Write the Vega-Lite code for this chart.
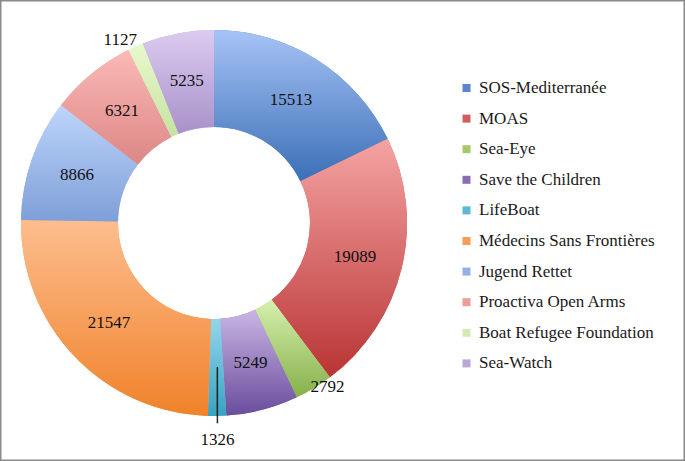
{
  "$schema": "https://vega.github.io/schema/vega-lite/v6.json",
  "width": 685,
  "height": 461,
  "autosize": {"type": "fit", "contains": "padding"},
  "padding": 0,
  "background": "white",
  "view": {"stroke": "#8a8a8a", "strokeWidth": 3},
  "config": {"font": "Liberation Serif"},
  "data": {"values": [
    {"name": "SOS-Mediterranée", "value": 15513},
    {"name": "MOAS", "value": 19089},
    {"name": "Sea-Eye", "value": 2792},
    {"name": "Save the Children", "value": 5249},
    {"name": "LifeBoat", "value": 1326},
    {"name": "Médecins Sans Frontières", "value": 21547},
    {"name": "Jugend Rettet", "value": 8866},
    {"name": "Proactiva Open Arms", "value": 6321},
    {"name": "Boat Refugee Foundation", "value": 1127},
    {"name": "Sea-Watch", "value": 5235}
  ]},
  "transform": [{"stack": "value", "groupby": [], "as": ["v0", "v1"]}],
  "layer": [
    {
      "mark": {"type": "arc", "x": 214, "y": 223, "radius": 193, "radius2": 96},
      "encoding": {
        "theta": {"field": "v0", "type": "quantitative", "scale": {"domain": [0, 87065]}},
        "theta2": {"field": "v1"},
        "color": {
          "field": "name", "type": "nominal",
          "scale": {
            "domain": ["SOS-Mediterranée", "MOAS", "Sea-Eye", "Save the Children", "LifeBoat", "Médecins Sans Frontières", "Jugend Rettet", "Proactiva Open Arms", "Boat Refugee Foundation", "Sea-Watch"],
            "range": ["#5a86c8", "#cf5e5d", "#a6c96a", "#8a6cb0", "#5cb8d4", "#f79a55", "#93b1e6", "#eb9c9b", "#d2ecb3", "#bba6d8"]
          },
          "legend": {
            "orient": "none", "legendX": 458, "legendY": 79.5, "title": null,
            "symbolType": "square", "symbolSize": 64, "symbolStrokeWidth": 0,
            "labelFont": "Liberation Serif", "labelFontSize": 17, "labelColor": "#1a1a1a",
            "labelLimit": 400, "rowPadding": 12.6, "labelOffset": 4, "padding": 0
          }
        }
      }
    },
    {
      "encoding": {
        "theta": {"field": "v0", "type": "quantitative", "scale": {"domain": [0, 87065]}},
        "theta2": {"field": "v1"}
      },
      "layer": [
        {"transform": [{"filter": "datum.name === 'SOS-Mediterranée'"}],
         "mark": {"type": "arc", "x": 214, "y": 223, "radius": 193, "radius2": 96,
           "color": {"gradient": "linear", "x1": 0, "y1": 0, "x2": 0, "y2": 1, "stops": [{"offset": 0, "color": "#a6c3f5"}, {"offset": 1, "color": "#3b6fb6"}]}}},
        {"transform": [{"filter": "datum.name === 'MOAS'"}],
         "mark": {"type": "arc", "x": 214, "y": 223, "radius": 193, "radius2": 96,
           "color": {"gradient": "linear", "x1": 0, "y1": 0, "x2": 0, "y2": 1, "stops": [{"offset": 0, "color": "#f5a3a3"}, {"offset": 1, "color": "#b93434"}]}}},
        {"transform": [{"filter": "datum.name === 'Sea-Eye'"}],
         "mark": {"type": "arc", "x": 214, "y": 223, "radius": 193, "radius2": 96,
           "color": {"gradient": "linear", "x1": 0, "y1": 0, "x2": 0, "y2": 1, "stops": [{"offset": 0, "color": "#d6f0ae"}, {"offset": 1, "color": "#86b04a"}]}}},
        {"transform": [{"filter": "datum.name === 'Save the Children'"}],
         "mark": {"type": "arc", "x": 214, "y": 223, "radius": 193, "radius2": 96,
           "color": {"gradient": "linear", "x1": 0, "y1": 0, "x2": 0, "y2": 1, "stops": [{"offset": 0, "color": "#c9b6e4"}, {"offset": 1, "color": "#6a4c9c"}]}}},
        {"transform": [{"filter": "datum.name === 'LifeBoat'"}],
         "mark": {"type": "arc", "x": 214, "y": 223, "radius": 193, "radius2": 96,
           "color": {"gradient": "linear", "x1": 0, "y1": 0, "x2": 0, "y2": 1, "stops": [{"offset": 0, "color": "#93d6ec"}, {"offset": 1, "color": "#3aa2c2"}]}}},
        {"transform": [{"filter": "datum.name === 'Médecins Sans Frontières'"}],
         "mark": {"type": "arc", "x": 214, "y": 223, "radius": 193, "radius2": 96,
           "color": {"gradient": "linear", "x1": 0, "y1": 0, "x2": 0, "y2": 1, "stops": [{"offset": 0, "color": "#fdbd8e"}, {"offset": 1, "color": "#f0822a"}]}}},
        {"transform": [{"filter": "datum.name === 'Jugend Rettet'"}],
         "mark": {"type": "arc", "x": 214, "y": 223, "radius": 193, "radius2": 96,
           "color": {"gradient": "linear", "x1": 0, "y1": 0, "x2": 0, "y2": 1, "stops": [{"offset": 0, "color": "#bed5fc"}, {"offset": 1, "color": "#7e9fd8"}]}}},
        {"transform": [{"filter": "datum.name === 'Proactiva Open Arms'"}],
         "mark": {"type": "arc", "x": 214, "y": 223, "radius": 193, "radius2": 96,
           "color": {"gradient": "linear", "x1": 0, "y1": 0, "x2": 0, "y2": 1, "stops": [{"offset": 0, "color": "#fbb9b6"}, {"offset": 1, "color": "#dc8785"}]}}},
        {"transform": [{"filter": "datum.name === 'Boat Refugee Foundation'"}],
         "mark": {"type": "arc", "x": 214, "y": 223, "radius": 193, "radius2": 96,
           "color": {"gradient": "linear", "x1": 0, "y1": 0, "x2": 0, "y2": 1, "stops": [{"offset": 0, "color": "#e8f8cc"}, {"offset": 1, "color": "#c6e3a0"}]}}},
        {"transform": [{"filter": "datum.name === 'Sea-Watch'"}],
         "mark": {"type": "arc", "x": 214, "y": 223, "radius": 193, "radius2": 96,
           "color": {"gradient": "linear", "x1": 0, "y1": 0, "x2": 0, "y2": 1, "stops": [{"offset": 0, "color": "#dccbf0"}, {"offset": 1, "color": "#a891c9"}]}}}
      ]
    },
    {
      "encoding": {
        "theta": {"field": "value", "type": "quantitative", "stack": true},
        "order": {"field": "v0", "type": "quantitative", "sort": "ascending"}
      },
      "layer": [
        {"mark": {"type": "text", "x": 214, "y": 223, "radius": 145, "font": "Liberation Serif", "fontSize": 17, "color": "#111111", "align": "center", "baseline": "middle"},
         "encoding": {"text": {"condition": {"test": "datum.name === 'Sea-Eye' || datum.name === 'LifeBoat' || datum.name === 'Boat Refugee Foundation'", "value": ""}, "field": "value", "type": "quantitative", "format": "d"}}},
        {"mark": {"type": "text", "x": 214, "y": 223, "radius": 206, "dx": -10, "dy": 5, "font": "Liberation Serif", "fontSize": 17, "color": "#111111", "align": "center", "baseline": "middle"},
         "encoding": {"text": {"condition": {"test": "datum.name !== 'Boat Refugee Foundation'", "value": ""}, "field": "value", "type": "quantitative", "format": "d"}}},
        {"mark": {"type": "text", "x": 214, "y": 223, "radius": 200, "dx": 10, "dy": -7, "font": "Liberation Serif", "fontSize": 17, "color": "#111111", "align": "center", "baseline": "middle"},
         "encoding": {"text": {"condition": {"test": "datum.name !== 'Sea-Eye'", "value": ""}, "field": "value", "type": "quantitative", "format": "d"}}},
        {"mark": {"type": "text", "x": 214, "y": 223, "radius": 217, "font": "Liberation Serif", "fontSize": 17, "color": "#111111", "align": "center", "baseline": "middle"},
         "encoding": {"text": {"condition": {"test": "datum.name !== 'LifeBoat'", "value": ""}, "field": "value", "type": "quantitative", "format": "d"}}},
        {"mark": {"type": "text", "x": 214, "y": 223, "radius": 172, "angle": 90, "font": "DejaVu Sans Mono", "fontSize": 15.5, "color": "#111111", "align": "center", "baseline": "middle"},
         "encoding": {"text": {"condition": {"test": "datum.name === 'LifeBoat'", "value": "──────"}, "value": ""}}}
      ]
    }
  ]
}
